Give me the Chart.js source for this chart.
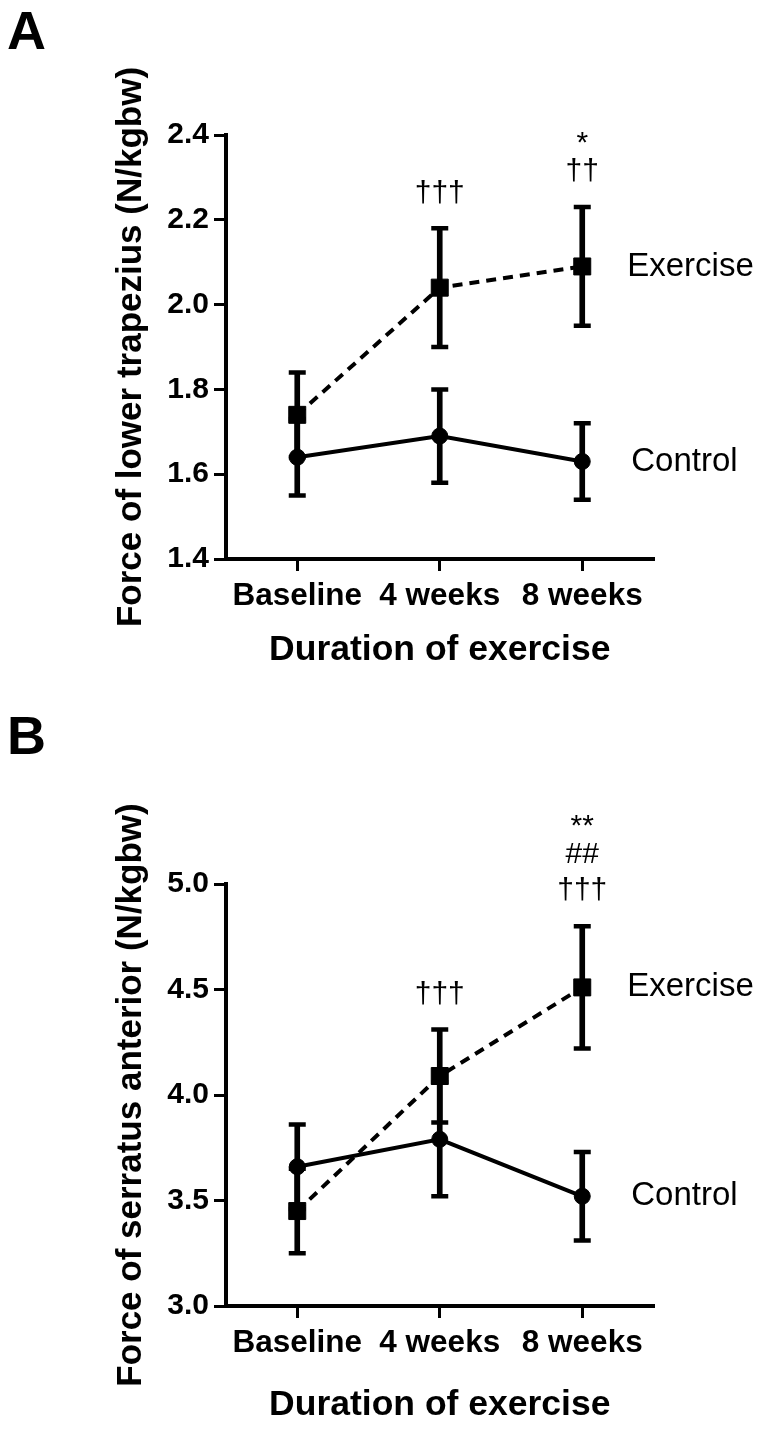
<!DOCTYPE html>
<html>
<head>
<meta charset="utf-8">
<script src="https://cdn.jsdelivr.net/npm/chart.js@4.4.0/dist/chart.umd.min.js"></script>
<style>
  html, body { margin: 0; padding: 0; background: #fff; overflow: hidden; }
  canvas { position: absolute; left: 0; }
  .tag { position: absolute; left: 7px; font: bold 54px "Liberation Sans", Arial, sans-serif; line-height: 1; color: #000; }
</style>
</head>
<body>
<canvas id="chA" width="768" height="700" style="top:0;width:768px;height:700px"></canvas>
<canvas id="chB" width="768" height="731" style="top:700px;width:768px;height:731px"></canvas>
<div class="tag" style="top:3px">A</div>
<div class="tag" style="top:708px">B</div>
<script>
/* force vs. duration of exercise, two panels */

var FONT = '"Liberation Sans", Arial, Helvetica, sans-serif';

// x categories
var categories = ['Baseline', '4 weeks', '8 weeks'];

// panel A - lower trapezius
var exerciseA = [1.74, 2.04, 2.09];
var exerciseErrA = [0.10, 0.14, 0.14];
var controlA = [1.64, 1.69, 1.63];
var controlErrA = [0.09, 0.11, 0.09];
var ticksA = [1.4, 1.6, 1.8, 2.0, 2.2, 2.4];
var notesA = [[], ['†††'], ['*', '††']];

// panel B - serratus anterior
var exerciseB = [3.45, 4.09, 4.51];
var exerciseErrB = [0.20, 0.22, 0.29];
var controlB = [3.66, 3.79, 3.52];
var controlErrB = [0.20, 0.27, 0.21];
var ticksB = [3.0, 3.5, 4.0, 4.5, 5.0];
var notesB = [[], ['†††'], ['**', '##', '†††']];

function lows(m, e) { return m.map(function (v, i) { return +(v - e[i]).toFixed(3); }); }
function highs(m, e) { return m.map(function (v, i) { return +(v + e[i]).toFixed(3); }); }
function spans(a, b) { return a.map(function (v, i) { return [v, b[i]]; }); }

function capSet(data) {
  return {
    type: 'line', data: data, showLine: false,
    pointStyle: 'line', pointRadius: 8.5, pointBorderWidth: 4.5,
    borderColor: '#000', backgroundColor: '#000', order: 3
  };
}

function panel(id, d) {
  var exLo = lows(d.ex, d.exErr), exHi = highs(d.ex, d.exErr);
  var ctLo = lows(d.ct, d.ctErr), ctHi = highs(d.ct, d.ctErr);
  var last = categories.length - 1;

  // significance marks + series names
  var marks = {
    id: 'marks',
    afterDatasetsDraw: function (chart) {
      var ctx = chart.ctx, x = chart.scales.x, y = chart.scales.y;
      ctx.save();
      ctx.fillStyle = '#000';
      ctx.textAlign = 'center';
      ctx.textBaseline = 'middle';
      ctx.font = '30px ' + FONT;
      d.notes.forEach(function (lines, i) {
        var px = x.getPixelForValue(i);
        var py = y.getPixelForValue(exHi[i]) - 35;
        for (var k = lines.length - 1; k >= 0; k--) {
          var shift = lines[k].charAt(0) === '*' ? 8 : 0;
          ctx.fillText(lines[k], px, py + shift);
          py -= 36;
        }
      });
      ctx.textAlign = 'left';
      ctx.font = '33px ' + FONT;
      var lx = x.getPixelForValue(last) + 45;
      ctx.fillText('Exercise', lx, y.getPixelForValue(d.ex[last]));
      ctx.fillText('Control', lx + 4, y.getPixelForValue(d.ct[last]));
      ctx.restore();
    }
  };

  var gridOpts = {
    display: true, offset: false, drawOnChartArea: false, drawTicks: true,
    tickLength: 12, color: '#000', lineWidth: 3
  };

  return new Chart(document.getElementById(id), {
    type: 'bar',
    data: {
      labels: categories,
      datasets: [
        { type: 'line', label: 'Exercise', data: d.ex, borderColor: '#000', backgroundColor: '#000',
          borderWidth: 4, borderDash: [10, 7], pointStyle: 'rect', pointRadius: 12, pointBorderWidth: 1, order: 1 },
        { type: 'line', label: 'Control', data: d.ct, borderColor: '#000', backgroundColor: '#000',
          borderWidth: 4, pointStyle: 'circle', pointRadius: 8, pointBorderWidth: 1, order: 1 },
        { type: 'bar', data: spans(exLo, exHi), backgroundColor: '#000', borderWidth: 0,
          barThickness: 5, grouped: false, order: 2 },
        { type: 'bar', data: spans(ctLo, ctHi), backgroundColor: '#000', borderWidth: 0,
          barThickness: 5, grouped: false, order: 2 },
        capSet(exLo), capSet(exHi), capSet(ctLo), capSet(ctHi)
      ]
    },
    options: {
      responsive: false,
      devicePixelRatio: 1,
      animation: false,
      events: [],
      layout: { padding: { top: d.top, left: 0, right: 114.5, bottom: 0 } },
      plugins: { legend: { display: false }, tooltip: { enabled: false } },
      scales: {
        x: {
          type: 'category', offset: true,
          grid: gridOpts,
          border: { display: true, color: '#000', width: 4 },
          ticks: { color: '#000', font: { family: FONT, size: 31.5, weight: 'bold' }, padding: 6,
                   maxRotation: 0, autoSkip: false },
          title: { display: true, text: 'Duration of exercise', color: '#000',
                   font: { family: FONT, size: 35.5, weight: 'bold' }, padding: { top: 0, bottom: d.xTitlePad } },
          afterFit: function (s) { s.height = d.xHeight; }
        },
        y: {
          type: 'linear', min: d.ticks[0], max: d.ticks[d.ticks.length - 1],
          afterBuildTicks: function (s) { s.ticks = d.ticks.map(function (v) { return { value: v }; }); },
          grid: gridOpts,
          border: { display: true, color: '#000', width: 4 },
          ticks: { color: '#000', font: { family: FONT, size: 30, weight: 'bold' }, padding: 5,
                   callback: function (v) { return Number(v).toFixed(1); } },
          title: { display: true, text: d.yTitle, color: '#000',
                   font: { family: FONT, size: 35, weight: 'bold' }, padding: { top: 110, bottom: 0 } },
          afterFit: function (s) { s.width = 226; }
        }
      }
    },
    plugins: [marks]
  });
}

panel('chA', {
  ex: exerciseA, exErr: exerciseErrA, ct: controlA, ctErr: controlErrA,
  ticks: ticksA, notes: notesA, yTitle: 'Force of lower trapezius (N/kgbw)',
  top: 135, xHeight: 141, xTitlePad: 28.5
});

panel('chB', {
  ex: exerciseB, exErr: exerciseErrB, ct: controlB, ctErr: controlErrB,
  ticks: ticksB, notes: notesB, yTitle: 'Force of serratus anterior (N/kgbw)',
  top: 184, xHeight: 125, xTitlePad: 4.5
});
</script>
</body>
</html>
